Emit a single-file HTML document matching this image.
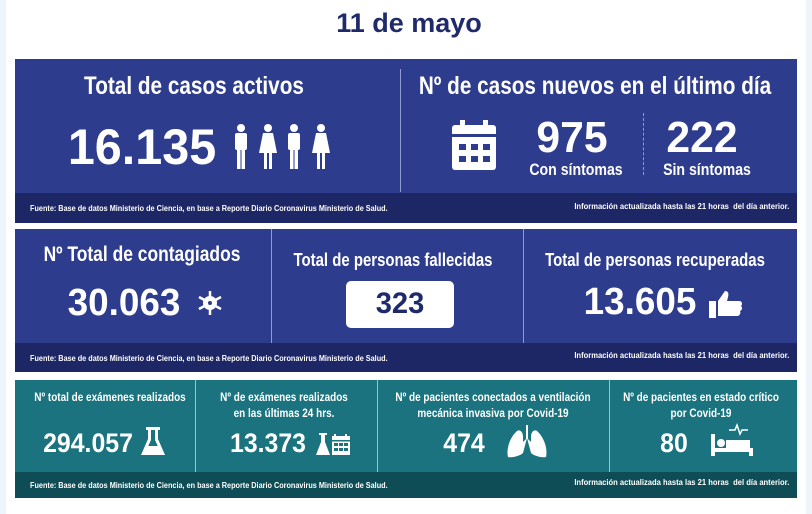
<!DOCTYPE html>
<html><head><meta charset="utf-8"><style>
*{margin:0;padding:0;box-sizing:border-box}
body{width:812px;height:514px;background:#fff;position:relative;overflow:hidden;font-family:"Liberation Sans",sans-serif;font-weight:bold;color:#fff}
.strip{position:absolute;top:0;bottom:0;width:6px;background:#eef4fc}
.p{position:absolute;left:15px;width:782px}
.blue{background:#2e3c8e}
.bfoot{background:#1d2766}
.teal{background:#1a737e}
.tfoot{background:#0f4d56}
.c{position:absolute;transform:translateX(-50%) scaleX(0.83);white-space:nowrap;text-align:center}
.n{transform:translateX(-50%) scaleX(0.97)}
.n2{transform:translateX(-50%) scaleX(0.92)}
.f{position:absolute;font-size:8px;white-space:nowrap;transform:scaleX(0.91);transform-origin:left center}
.fr{position:absolute;font-size:8px;white-space:nowrap;transform:scaleX(0.95);transform-origin:right center;right:23px}
.vl{position:absolute;width:1px;background:#8e9bd0}
</style></head><body>
<div class="strip" style="left:0"></div><div class="strip" style="right:0"></div>
<div class="c" style="left:409px;top:8px;font-size:27px;color:#1f2a6b;transform:translateX(-50%) scaleX(1.0)">11 de mayo</div>

<!-- panel 1 -->
<div class="p blue" style="top:59px;height:135px"></div>
<div class="p bfoot" style="top:193px;height:30px"></div>
<div class="vl" style="left:400px;top:69px;height:123px"></div>
<div class="c" style="left:194px;top:72px;font-size:25px">Total de casos activos</div>
<div class="c n" style="left:142px;top:118px;font-size:50px">16.135</div>
<svg style="position:absolute;left:233px;top:124px" width="102" height="46" viewBox="0 0 102 46" fill="#fff">
<g id="m"><circle cx="8" cy="4" r="4"/><rect x="2" y="9" width="12" height="17" rx="2"/><rect x="4" y="24" width="3.5" height="21"/><rect x="8.5" y="24" width="3.5" height="21"/></g>
<g transform="translate(27,0)"><circle cx="8" cy="4" r="4"/><path d="M3 9h10l4 20H-1z"/><rect x="4" y="28" width="3" height="17"/><rect x="9" y="28" width="3" height="17"/></g>
<use href="#m" x="53"/>
<g transform="translate(80,0)"><circle cx="8" cy="4" r="4"/><path d="M3 9h10l4 20H-1z"/><rect x="4" y="28" width="3" height="17"/><rect x="9" y="28" width="3" height="17"/></g>
</svg>
<div class="c" style="left:595px;top:72px;font-size:25px">Nº de casos nuevos en el último día</div>
<svg style="position:absolute;left:452px;top:120px" width="44" height="50" viewBox="0 0 44 50" fill="#fff">
<rect x="8" y="0" width="5" height="8"/><rect x="31" y="0" width="5" height="8"/>
<rect x="0" y="5" width="44" height="45" rx="3"/>
<g fill="#2e3c8e"><rect x="0" y="14" width="44" height="3"/>
<rect x="7" y="24" width="7" height="6"/><rect x="19" y="24" width="7" height="6"/><rect x="31" y="24" width="7" height="6"/>
<rect x="7" y="36" width="7" height="6"/><rect x="19" y="36" width="7" height="6"/><rect x="31" y="36" width="7" height="6"/></g></svg>
<div class="c n" style="left:572px;top:113px;font-size:44px">975</div>
<div class="c" style="left:576px;top:160px;font-size:17px">Con síntomas</div>
<div class="vl" style="left:643px;top:113px;height:62px;background:none;border-left:1px dashed #8e9bd0"></div>
<div class="c n" style="left:702px;top:113px;font-size:44px">222</div>
<div class="c" style="left:707px;top:160px;font-size:17px">Sin síntomas</div>
<div class="f" style="left:30px;top:204px">Fuente: Base de datos Ministerio de Ciencia, en base a Reporte Diario Coronavirus Ministerio de Salud.</div>
<div class="fr" style="top:202px">Información actualizada hasta las 21 horas &nbsp;del día anterior.</div>

<!-- panel 2 -->
<div class="p blue" style="top:229px;height:115px"></div>
<div class="p bfoot" style="top:343px;height:29px"></div>
<div class="vl" style="left:271px;top:229px;height:114px"></div>
<div class="vl" style="left:523px;top:229px;height:114px"></div>
<div class="c" style="left:142px;top:243px;font-size:21px">Nº Total de contagiados</div>
<div class="c n" style="left:124px;top:282px;font-size:38px">30.063</div>
<svg style="position:absolute;left:198px;top:290px" width="24" height="26" viewBox="-12 -13 24 26" fill="#fff">
<circle r="7"/><g stroke="#fff" stroke-width="2.5"><line x1="0" y1="-12" x2="0" y2="12"/><line x1="-11" y1="-6" x2="11" y2="6"/><line x1="-11" y1="6" x2="11" y2="-6"/></g><circle r="2" fill="#2e3c8e"/></svg>
<div class="c" style="left:393px;top:250px;font-size:18px">Total de personas fallecidas</div>
<div style="position:absolute;left:346px;top:281px;width:108px;height:47px;background:#fff;border-radius:5px"></div>
<div class="c n" style="left:400px;top:287px;font-size:30px;color:#1f2a6b">323</div>
<div class="c" style="left:655px;top:250px;font-size:18px">Total de personas recuperadas</div>
<div class="c n" style="left:640px;top:281px;font-size:38px">13.605</div>
<svg style="position:absolute;left:709px;top:290px" width="34" height="28" viewBox="0 0 34 28" fill="#fff">
<rect x="0" y="11" width="7" height="17"/><path d="M9 11l7-10c3 0 4 2 3 6l-1 4h12c3 0 4 3 2 5c2 2 1 4-1 5c1 2 0 4-2 5h-20z"/></svg>
<div class="f" style="left:30px;top:354px">Fuente: Base de datos Ministerio de Ciencia, en base a Reporte Diario Coronavirus Ministerio de Salud.</div>
<div class="fr" style="top:351px">Información actualizada hasta las 21 horas &nbsp;del día anterior.</div>

<!-- panel 3 -->
<div class="p teal" style="top:380px;height:93px"></div>
<div class="p tfoot" style="top:472px;height:26px"></div>
<div class="vl" style="left:195px;top:380px;height:92px;background:#9cc3c8"></div>
<div class="vl" style="left:377px;top:380px;height:92px;background:#9cc3c8"></div>
<div class="vl" style="left:609px;top:380px;height:92px;background:#9cc3c8"></div>
<div class="c" style="left:110px;top:390px;font-size:12px">Nº total de exámenes realizados</div>
<div class="c n2" style="left:88px;top:428px;font-size:27px">294.057</div>
<svg style="position:absolute;left:141px;top:427px" width="24" height="30" viewBox="0 0 24 30" fill="#fff"><rect x="5" y="0" width="14" height="3"/><path d="M7 3h3v10L4 26h16L14 13V3h3v9l7 16H0l7-16z"/><path d="M6 19h12l3 7H3z"/></svg>
<div class="c" style="left:284px;top:389px;font-size:12px;line-height:16px">Nº de exámenes realizados<br>en las últimas 24 hrs.</div>
<div class="c n2" style="left:268px;top:428px;font-size:27px">13.373</div>
<svg style="position:absolute;left:316px;top:433px" width="36" height="22" viewBox="0 0 36 22" fill="#fff"><path d="M3 0h8v2H9v7l5 13H0l5-13V2H3z"/><rect x="18" y="1" width="2" height="3"/><rect x="29" y="1" width="2" height="3"/><rect x="16" y="3" width="18" height="19"/><g fill="#1a737e"><rect x="16" y="7" width="18" height="1.5"/><rect x="18" y="10" width="4" height="3"/><rect x="23" y="10" width="4" height="3"/><rect x="28" y="10" width="4" height="3"/><rect x="18" y="15" width="4" height="3"/><rect x="23" y="15" width="4" height="3"/><rect x="28" y="15" width="4" height="3"/></g></svg>
<div class="c" style="left:493px;top:389px;font-size:12px;line-height:16px">Nº de pacientes conectados a ventilación<br>mecánica invasiva por Covid-19</div>
<div class="c n2" style="left:464px;top:428px;font-size:27px">474</div>
<svg style="position:absolute;left:506px;top:425px" width="42" height="34" viewBox="0 0 42 34" fill="#fff"><rect x="20" y="0" width="2" height="14"/><path d="M21 13l-4 4v-5c0-5-3-8-6-6C4 12 0 24 2 32c4 1 12-1 15-4z"/><path d="M21 13l4 4v-5c0-5 3-8 6-6c7 6 11 18 9 26c-4 1-12-1-15-4z"/></svg>
<div class="c" style="left:701px;top:389px;font-size:12px;line-height:16px">Nº de pacientes en estado crítico<br>por Covid-19</div>
<div class="c n2" style="left:674px;top:428px;font-size:27px">80</div>
<svg style="position:absolute;left:711px;top:422px" width="42" height="34" viewBox="0 0 42 34" fill="#fff"><rect x="0" y="12" width="4" height="22"/><circle cx="10" cy="21" r="4"/><rect x="15" y="18" width="24" height="8"/><rect x="0" y="26" width="42" height="4"/><rect x="38" y="26" width="4" height="8"/><path d="M18 8h6l2-5 3 9 2-4h6" stroke="#fff" stroke-width="1.5" fill="none"/></svg>
<div class="f" style="left:30px;top:481px">Fuente: Base de datos Ministerio de Ciencia, en base a Reporte Diario Coronavirus Ministerio de Salud.</div>
<div class="fr" style="top:478px">Información actualizada hasta las 21 horas &nbsp;del día anterior.</div>
</body></html>
